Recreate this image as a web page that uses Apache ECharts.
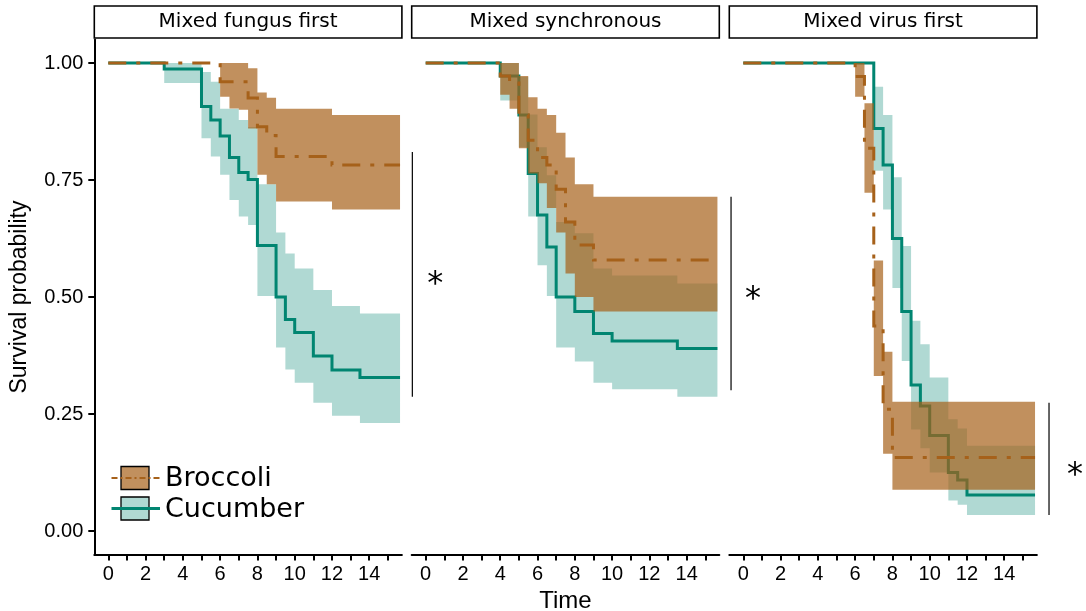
<!DOCTYPE html>
<html><head><meta charset="utf-8">
<script src="https://cdn.jsdelivr.net/npm/echarts@6/dist/echarts.min.js"></script>
<style>html,body{margin:0;padding:0;background:#fff}#c{width:1086px;height:611px}</style>
</head><body><div id="c"></div>
<script>
// ---------- data ----------
const panelTitles = ['Mixed fungus first', 'Mixed synchronous', 'Mixed virus first'];
const groupNames = ['Broccoli', 'Cucumber'];
const xTickLabels = [0, 2, 4, 6, 8, 10, 12, 14];
const yTickLabels = ['0.00', '0.25', '0.50', '0.75', '1.00'];
const endTime = 15.65;

// Panel 1: Mixed fungus first
const fungusBroccoliTime  = [0, 6, 6.5, 7, 7.5, 8, 8.5, 9, 12];
const fungusBroccoliSurv  = [1, 0.96, 0.96, 0.96, 0.925, 0.864, 0.845, 0.80, 0.782];
const fungusBroccoliUpper = [1, 1, 1, 1, 0.989, 0.937, 0.926, 0.902, 0.889];
const fungusBroccoliLower = [1, 0.928, 0.903, 0.90, 0.86, 0.761, 0.741, 0.704, 0.687];

const fungusCucumberTime  = [0, 3, 5, 5.5, 6, 6.5, 7, 7.5, 8, 9, 9.5, 10, 11, 12, 13.5];
const fungusCucumberSurv  = [1, 0.987, 0.907, 0.878, 0.844, 0.798, 0.766, 0.751, 0.61, 0.50, 0.452, 0.424, 0.374, 0.344, 0.328];
const fungusCucumberUpper = [1, 1, 0.981, 0.96, 0.902, 0.902, 0.878, 0.863, 0.741, 0.638, 0.593, 0.561, 0.515, 0.481, 0.465];
const fungusCucumberLower = [1, 0.957, 0.839, 0.80, 0.761, 0.707, 0.672, 0.654, 0.502, 0.392, 0.345, 0.317, 0.274, 0.246, 0.231];

// Panel 2: Mixed synchronous
const syncBroccoliTime  = [0, 4, 4.5, 5, 5.5, 6, 6.5, 7, 7.5, 8, 9];
const syncBroccoliSurv  = [1, 0.972, 0.957, 0.889, 0.835, 0.798, 0.782, 0.73, 0.66, 0.611, 0.579];
const syncBroccoliUpper = [1, 1, 1, 0.972, 0.927, 0.902, 0.889, 0.851, 0.798, 0.741, 0.714];
const syncBroccoliLower = [1, 0.932, 0.902, 0.818, 0.764, 0.743, 0.69, 0.638, 0.55, 0.50, 0.469];

const syncCucumberTime  = [0, 4, 5, 5.5, 6, 6.5, 7, 8, 9, 10, 13.5];
const syncCucumberSurv  = [1, 0.972, 0.889, 0.764, 0.675, 0.607, 0.50, 0.469, 0.422, 0.406, 0.39];
const syncCucumberUpper = [1, 1, 0.97, 0.89, 0.82, 0.76, 0.66, 0.636, 0.561, 0.546, 0.529];
const syncCucumberLower = [1, 0.92, 0.82, 0.672, 0.568, 0.502, 0.392, 0.362, 0.317, 0.303, 0.287];

// Panel 3: Mixed virus first
const virusBroccoliTime  = [0, 6, 6.5, 7, 7.5, 8];
const virusBroccoliSurv  = [1, 0.971, 0.818, 0.438, 0.26, 0.157];
const virusBroccoliUpper = [1, 1, 0.914, 0.578, 0.383, 0.276];
const virusBroccoliLower = [1, 0.928, 0.723, 0.331, 0.165, 0.088];

const virusCucumberTime  = [0, 7, 7.5, 8, 8.5, 9, 9.5, 10, 11, 11.5, 12];
const virusCucumberSurv  = [1, 0.860, 0.782, 0.625, 0.469, 0.312, 0.267, 0.204, 0.125, 0.109, 0.077];
const virusCucumberUpper = [1, 0.949, 0.889, 0.756, 0.609, 0.449, 0.399, 0.328, 0.239, 0.219, 0.182];
const virusCucumberLower = [1, 0.77, 0.687, 0.519, 0.363, 0.217, 0.177, 0.125, 0.065, 0.056, 0.034];

// significance annotations (data units)
const sigBarX    = [16.31, 16.38, 16.40];
const sigBarLow  = [0.287, 0.301, 0.034];
const sigBarHigh = [0.810, 0.714, 0.274];
const sigStarX   = [17.54, 17.56, 17.80];
const sigStarY   = [0.543, 0.511, 0.135];
const sigLabel   = ['*', '*', '*'];

// ---------- layout & style ----------
const BROWN = '#A6611A', TEAL = '#018571';
const BROWN_FILL = 'rgba(166,97,26,0.70)', TEAL_FILL = 'rgba(1,133,113,0.31)';
const PX = 18.64;
const gridLefts = [94.3, 411.7, 729.3];
const gridTop = 39.6, gridH = 514.8, gridW = 307.6;
const X_MIN = -0.75, X_MAX = 15.75, Y_MIN = -0.05, Y_MAX = 1.05;
const tickOffX = 0.75 * PX, tickW = 15 * PX;
const unitH = gridH / 1.1, tickOffY = 0.05 * unitH;

const panelData = [
  [fungusBroccoliTime, fungusBroccoliSurv, fungusBroccoliUpper, fungusBroccoliLower,
   fungusCucumberTime, fungusCucumberSurv, fungusCucumberUpper, fungusCucumberLower],
  [syncBroccoliTime, syncBroccoliSurv, syncBroccoliUpper, syncBroccoliLower,
   syncCucumberTime, syncCucumberSurv, syncCucumberUpper, syncCucumberLower],
  [virusBroccoliTime, virusBroccoliSurv, virusBroccoliUpper, virusBroccoliLower,
   virusCucumberTime, virusCucumberSurv, virusCucumberUpper, virusCucumberLower]
];

const grids = [], xAxes = [], yAxes = [], series = [];
for (let p = 0; p < 3; p++) {
  grids.push({left: gridLefts[p], top: gridTop, width: gridW, height: gridH,
    containLabel: false, outerBoundsMode: 'none'});
}
for (let p = 0; p < 3; p++) {
  grids.push({left: gridLefts[p] + tickOffX, top: gridTop + tickOffY, width: tickW, height: unitH,
    containLabel: false, outerBoundsMode: 'none'});
}
for (let p = 0; p < 3; p++) {
  xAxes.push({gridIndex: p, type: 'value', min: X_MIN, max: X_MAX,
    axisLine: {show: true, onZero: false, lineStyle: {color: '#000', width: 2}},
    axisTick: {show: false}, axisLabel: {show: false}, splitLine: {show: false}});
  yAxes.push({gridIndex: p, type: 'value', min: Y_MIN, max: Y_MAX,
    axisLine: {show: p === 0, onZero: false, lineStyle: {color: '#000', width: 2}},
    axisTick: {show: false}, axisLabel: {show: false}, splitLine: {show: false}});
}
for (let p = 0; p < 3; p++) {
  xAxes.push({gridIndex: 3 + p, type: 'value', min: 0, max: 15, interval: 1,
    offset: tickOffY,
    name: p === 1 ? 'Time' : '', nameLocation: 'middle', nameGap: 34,
    nameTextStyle: {fontFamily: 'Liberation Sans', fontSize: 24, color: '#000'},
    axisLine: {show: false, onZero: false},
    axisTick: {show: true, length: 6, lineStyle: {color: '#000', width: 2}},
    axisLabel: {show: true, margin: 10, fontFamily: 'Liberation Sans', fontSize: 20, color: '#000',
      formatter: v => xTickLabels.indexOf(v) >= 0 ? String(v) : ''},
    splitLine: {show: false}});
  yAxes.push({gridIndex: 3 + p, type: 'value', min: 0, max: 1, interval: 0.25,
    offset: tickOffX, show: p === 0,
    name: p === 0 ? 'Survival probability' : '', nameLocation: 'middle', nameGap: 63,
    nameTextStyle: {fontFamily: 'Liberation Sans', fontSize: 23, color: '#000'},
    axisLine: {show: false, onZero: false},
    axisTick: {show: true, length: 6, lineStyle: {color: '#000', width: 2}},
    axisLabel: {show: true, margin: 11, fontFamily: 'Liberation Sans', fontSize: 20, color: '#000',
      formatter: v => yTickLabels[Math.round(v * 4)]},
    splitLine: {show: false}});
}

function makeBand(g, times, upper, lower, fill, z) {
  return {
    type: 'custom', xAxisIndex: g, yAxisIndex: g, z: z, silent: true, clip: false,
    data: [[times[0], upper[0]]],
    renderItem: function (params, api) {
      const pts = [];
      for (let i = 0; i < times.length; i++) {
        const x1 = i + 1 < times.length ? times[i + 1] : endTime;
        pts.push(api.coord([times[i], upper[i]]), api.coord([x1, upper[i]]));
      }
      for (let i = times.length - 1; i >= 0; i--) {
        const x1 = i + 1 < times.length ? times[i + 1] : endTime;
        pts.push(api.coord([x1, lower[i]]), api.coord([times[i], lower[i]]));
      }
      return {type: 'polygon', shape: {points: pts}, style: {fill: fill, stroke: null}};
    }
  };
}
function makeLine(g, name, times, surv, color, dashed, z) {
  const data = times.map((t, i) => [t, surv[i]]);
  data.push([endTime, surv[surv.length - 1]]);
  return {
    type: 'line', name: name, xAxisIndex: g, yAxisIndex: g, step: 'end', data: data,
    symbol: 'none', z: z, silent: true,
    lineStyle: {color: color, width: 3, type: dashed ? [18, 10, 4, 10] : 'solid', cap: 'butt', join: 'miter'}
  };
}

for (let p = 0; p < 3; p++) {
  const d = panelData[p];
  series.push(makeBand(p, d[4], d[6], d[7], TEAL_FILL, 2));
  series.push(makeLine(p, groupNames[1], d[4], d[5], TEAL, false, 3));
  series.push(makeBand(p, d[0], d[2], d[3], BROWN_FILL, 4));
  series.push(makeLine(p, groupNames[0], d[0], d[1], BROWN, true, 5));
  series.push({
    type: 'custom', xAxisIndex: p, yAxisIndex: p, z: 6, silent: true, clip: false,
    data: [[sigBarX[p], sigBarLow[p], sigBarHigh[p], sigStarX[p], sigStarY[p]]],
    renderItem: function (params, api) {
      const a = api.coord([api.value(0), api.value(1)]);
      const b = api.coord([api.value(0), api.value(2)]);
      const s = api.coord([api.value(3), api.value(4)]);
      return {type: 'group', children: [
        {type: 'line', shape: {x1: a[0], y1: a[1], x2: b[0], y2: b[1]}, style: {stroke: '#000', lineWidth: 1.2}},
        {type: 'text', x: s[0], y: s[1] + 8, style: {text: sigLabel[p], fontFamily: 'DejaVu Sans', fontSize: 32,
          fill: '#000', align: 'center', verticalAlign: 'middle'}}
      ]};
    }
  });
}

// strips and legend
const graphics = [];
for (let p = 0; p < 3; p++) {
  graphics.push({type: 'rect', shape: {x: gridLefts[p], y: 6, width: gridW, height: 32},
    style: {fill: '#fff', stroke: '#000', lineWidth: 1.6}, z: 10});
  graphics.push({type: 'text', x: gridLefts[p] + gridW / 2, y: 22,
    style: {text: panelTitles[p], fontFamily: 'DejaVu Sans', fontSize: 20, fill: '#000',
      align: 'center', verticalAlign: 'middle'}, z: 11});
}
const legendRows = [
  {name: groupNames[0], fill: BROWN_FILL, color: BROWN, dash: [6, 3, 2, 3], y: 478},
  {name: groupNames[1], fill: TEAL_FILL, color: TEAL, dash: null, y: 508.5}
];
legendRows.forEach(r => {
  graphics.push({type: 'rect', shape: {x: 121, y: r.y - 11.5, width: 28, height: 23},
    style: {fill: r.fill, stroke: '#000', lineWidth: 1.3}, z: 10});
  graphics.push({type: 'line', shape: {x1: 111.5, y1: r.y, x2: 160, y2: r.y},
    style: {stroke: r.color, lineWidth: r.dash ? 2.2 : 3, lineDash: r.dash || null}, z: 11});
  graphics.push({type: 'text', x: 165, y: r.y + 1,
    style: {text: r.name, fontFamily: 'DejaVu Sans', fontSize: 27, fill: '#000',
      align: 'left', verticalAlign: 'middle'}, z: 11});
});

const chart = echarts.init(document.getElementById('c'), null, {renderer: 'canvas'});
chart.setOption({
  animation: false,
  backgroundColor: '#fff',
  grid: grids, xAxis: xAxes, yAxis: yAxes, series: series, graphic: graphics
});
</script></body></html>
